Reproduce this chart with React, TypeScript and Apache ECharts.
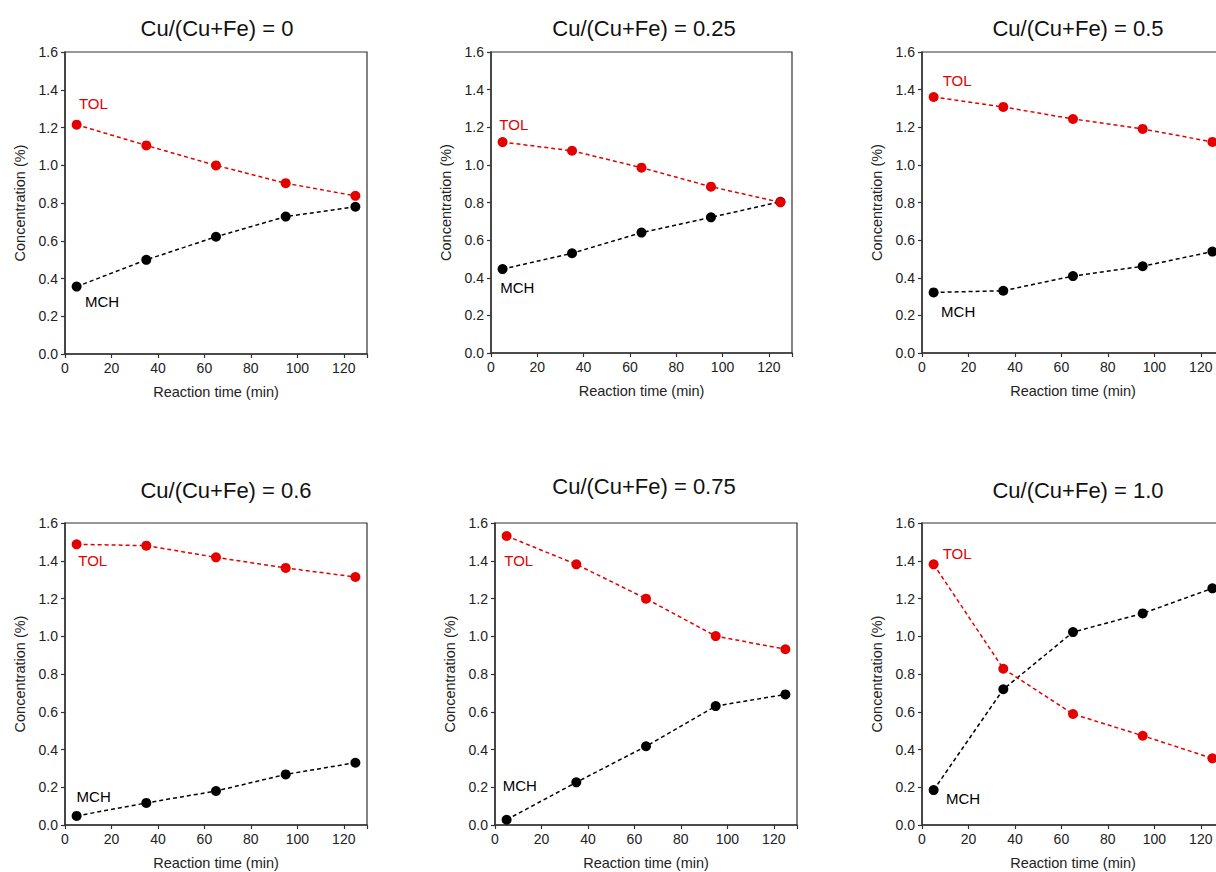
import React, { useEffect, useRef } from "react";
import * as echarts from "echarts";

const times = [5, 35, 65, 95, 125];
const panelTitles = [
  "Cu/(Cu+Fe) = 0",
  "Cu/(Cu+Fe) = 0.25",
  "Cu/(Cu+Fe) = 0.5",
  "Cu/(Cu+Fe) = 0.6",
  "Cu/(Cu+Fe) = 0.75",
  "Cu/(Cu+Fe) = 1.0",
];
const tolValues = [
  [1.215, 1.105, 0.999, 0.905, 0.838],
  [1.121, 1.075, 0.985, 0.884, 0.801],
  [1.361, 1.308, 1.244, 1.191, 1.122],
  [1.487, 1.48, 1.418, 1.362, 1.314],
  [1.531, 1.381, 1.199, 1.001, 0.931],
  [1.381, 0.828, 0.588, 0.473, 0.353],
];
const mchValues = [
  [0.357, 0.499, 0.621, 0.728, 0.78],
  [0.446, 0.53, 0.64, 0.721, 0.804],
  [0.322, 0.331, 0.409, 0.461, 0.539],
  [0.048, 0.117, 0.18, 0.268, 0.33],
  [0.028, 0.226, 0.417, 0.63, 0.692],
  [0.185, 0.719, 1.022, 1.121, 1.254],
];
// label anchor (data coords: left edge x, centre y)
const tolLabelPos = [
  [6.0, 1.325],
  [3.6, 1.217],
  [8.9, 1.447],
  [5.7, 1.399],
  [4.0, 1.4],
  [8.9, 1.44],
];
const mchLabelPos = [
  [8.6, 0.276],
  [4.0, 0.35],
  [8.2, 0.218],
  [5.0, 0.15],
  [3.3, 0.207],
  [10.3, 0.141],
];
const xTicks = [0, 20, 40, 60, 80, 100, 120];
const yTicks = [0, 0.2, 0.4, 0.6, 0.8, 1.0, 1.2, 1.4, 1.6];

const gridBoxes = [
  { left: 65, top: 52, width: 302, height: 302 },
  { left: 491, top: 52, width: 301, height: 301 },
  { left: 922, top: 52, width: 302, height: 301 },
  { left: 65, top: 523, width: 302, height: 302 },
  { left: 495, top: 523, width: 302, height: 302 },
  { left: 922, top: 523, width: 302, height: 302 },
];
const titleCenters = [
  [212, 12],
  [639, 12],
  [1073, 12],
  [221, 474],
  [639, 470],
  [1073, 474],
];

const RED = "#e50000";
const BLACK = "#000000";
const AXIS = "#333333";
const FONT = "Liberation Sans, Arial, sans-serif";

export default function App() {
  const ref = useRef<HTMLDivElement>(null);
  useEffect(() => {
    if (!ref.current) return;
    const chart = echarts.init(ref.current, null, { renderer: "svg" });
    const grids = gridBoxes.map((g) => ({
      ...g,
      show: true,
      borderColor: AXIS,
      borderWidth: 1.2,
      backgroundColor: "transparent",
      containLabel: false,
    }));
    const xAxes = gridBoxes.map((_, i) => ({
      type: "value",
      gridIndex: i,
      min: 0,
      max: 130,
      interval: 20,
      name: "Reaction time (min)",
      nameLocation: "middle",
      nameGap: 30,
      nameTextStyle: { fontSize: 14.5, color: "#222", fontFamily: FONT },
      axisLine: { show: true, lineStyle: { color: AXIS, width: 1.5 } },
      axisTick: { show: true, length: 4, lineStyle: { color: AXIS, width: 1.2 } },
      axisLabel: {
        fontSize: 14,
        color: "#222",
        fontFamily: FONT,
        margin: 7,
        formatter: (v: number) => (xTicks.includes(v) ? String(v) : ""),
      },
      splitLine: { show: false },
    }));
    const yAxes = gridBoxes.map((_, i) => ({
      type: "value",
      gridIndex: i,
      min: 0,
      max: 1.6,
      interval: 0.2,
      name: "Concentration (%)",
      nameLocation: "middle",
      nameGap: 38,
      nameTextStyle: { fontSize: 14.5, color: "#222", fontFamily: FONT },
      axisLine: { show: true, lineStyle: { color: AXIS, width: 1.5 } },
      axisTick: { show: true, length: 4, lineStyle: { color: AXIS, width: 1.2 } },
      axisLabel: {
        fontSize: 14,
        color: "#222",
        fontFamily: FONT,
        margin: 7,
        formatter: (v: number) => {
          const t = yTicks.find((y) => Math.abs(y - v) < 1e-6);
          return t === undefined ? "" : t.toFixed(1);
        },
      },
      splitLine: { show: false },
    }));
    const series: any[] = [];
    gridBoxes.forEach((_, i) => {
      const mk = (name: string, vals: number[], color: string, pos: number[]) => ({
        type: "line",
        name,
        xAxisIndex: i,
        yAxisIndex: i,
        data: times.map((t, k) => [t, vals[k]]),
        symbol: "circle",
        symbolSize: 10,
        itemStyle: { color },
        lineStyle: { color, width: 1.5, type: [4, 3] },
        clip: false,
        markPoint: {
          symbol: "circle",
          symbolSize: 0,
          silent: true,
          data: [
            {
              coord: pos,
              label: {
                show: true,
                position: "right",
                distance: 0,
                formatter: name,
                color,
                fontSize: 15,
                fontFamily: FONT,
              },
            },
          ],
        },
      });
      series.push(mk("MCH", mchValues[i], BLACK, mchLabelPos[i]));
      series.push(mk("TOL", tolValues[i], RED, tolLabelPos[i]));
    });
    chart.setOption({
      animation: false,
      backgroundColor: "#ffffff",
      textStyle: { fontFamily: FONT },
      title: panelTitles.map((t, i) => ({
        text: t,
        left: titleCenters[i][0],
        top: titleCenters[i][1],
        textAlign: "center",
        textStyle: { fontSize: 22, fontWeight: "normal", color: "#111", fontFamily: FONT },
      })),
      grid: grids,
      xAxis: xAxes,
      yAxis: yAxes,
      series,
    });
    return () => chart.dispose();
  }, []);
  return (
    <div
      style={{
        position: "absolute",
        left: 0,
        top: 0,
        width: 1216,
        height: 872,
        overflow: "hidden",
        background: "#ffffff",
      }}
    >
      <div ref={ref} style={{ width: 1250, height: 872 }} />
    </div>
  );
}
